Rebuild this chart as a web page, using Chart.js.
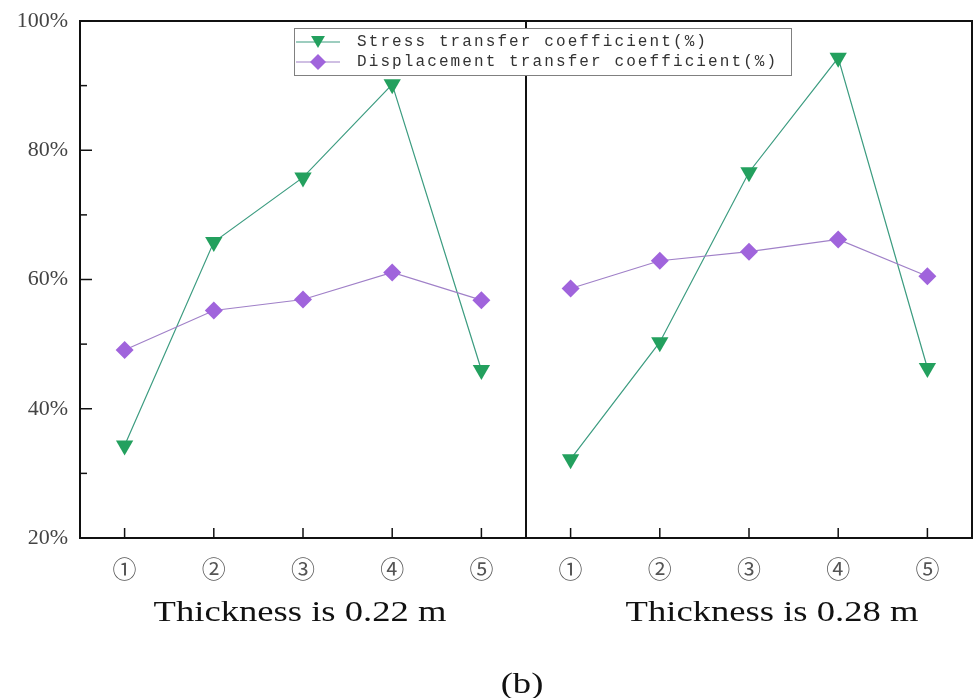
<!DOCTYPE html>
<html>
<head>
<meta charset="utf-8">
<script src="https://cdn.jsdelivr.net/npm/chart.js@4.4.1/dist/chart.umd.min.js"></script>
<style>
    body { margin: 0; background: #fff; }
    #wrap { position: relative; width: 974px; height: 698px; }
    .cap {
        position: absolute;
        font-family: 'Liberation Serif', 'Times New Roman', serif;
        font-size: 30px;
        color: #111;
        white-space: nowrap;
        line-height: 1;
        transform: translateX(-50%) scaleX(1.22);
    }
</style>
</head>
<body>
<div id="wrap">
    <canvas id="myChart" width="974" height="698"></canvas>
    <div class="cap" style="left:300px; top:596px;">Thickness is 0.22 m</div>
    <div class="cap" style="left:772px; top:596px;">Thickness is 0.28 m</div>
    <div class="cap" style="left:522px; top:668px;">(b)</div>
</div>
<script>
// data
const points = ['①', '②', '③', '④', '⑤'];
const stressThin = [34.3, 65.8, 75.8, 90.2, 46.0];      // thickness 0.22 m
const stressThick = [32.2, 50.3, 76.6, 94.3, 46.3];     // thickness 0.28 m
const dispThin = [49.1, 55.2, 56.9, 61.1, 56.8];
const dispThick = [58.6, 62.9, 64.3, 66.2, 60.5];
const yTicks = [20, 40, 60, 80, 100];

const seriesNames = ['Stress transfer coefficient(%)', 'Displacement transfer coefficient(%)'];
const green = '#23a05e';
const greenLine = '#3c9c80';
const purple = '#a064dc';
const purpleLine = '#a080c8';

const labels = points.concat(points);
const gap = new Array(points.length).fill(null);

function tri(ctx, x, y, r, color) {
    ctx.beginPath();
    ctx.moveTo(x - r * 0.866, y - r * 0.5);
    ctx.lineTo(x + r * 0.866, y - r * 0.5);
    ctx.lineTo(x, y + r);
    ctx.closePath();
    ctx.fillStyle = color;
    ctx.fill();
}

function diamond(ctx, x, y, r, color) {
    ctx.beginPath();
    ctx.moveTo(x, y - r);
    ctx.lineTo(x + r, y);
    ctx.lineTo(x, y + r);
    ctx.lineTo(x - r, y);
    ctx.closePath();
    ctx.fillStyle = color;
    ctx.fill();
}

// frame, divider, inward ticks and legend box
const decor = {
    id: 'decor',
    afterDraw(chart) {
        const ctx = chart.ctx;
        const a = chart.chartArea;
        const xs = chart.scales.x;
        const ys = chart.scales.y;
        ctx.save();
        ctx.strokeStyle = '#111';
        ctx.lineWidth = 2;
        ctx.strokeRect(a.left, a.top, a.right - a.left, a.bottom - a.top);

        const mid = xs.getPixelForValue(points.length - 0.5);
        ctx.beginPath();
        ctx.moveTo(mid, a.top);
        ctx.lineTo(mid, a.bottom);
        ctx.stroke();

        // y ticks (major every 20, minor every 10)
        ctx.lineWidth = 1.5;
        for (let v = 20; v <= 100; v += 10) {
            const py = ys.getPixelForValue(v);
            const len = yTicks.includes(v) ? 12 : 7;
            ctx.beginPath();
            ctx.moveTo(a.left, py);
            ctx.lineTo(a.left + len, py);
            ctx.stroke();
        }
        // x ticks
        for (let i = 0; i < labels.length; i++) {
            const px = xs.getPixelForValue(i);
            ctx.beginPath();
            ctx.moveTo(px, a.bottom);
            ctx.lineTo(px, a.bottom - 10);
            ctx.stroke();
        }

        // legend
        const lx = 294, ly = 28, lw = 497, lh = 47;
        ctx.fillStyle = '#fff';
        ctx.fillRect(lx, ly, lw, lh);
        ctx.strokeStyle = '#808080';
        ctx.lineWidth = 1;
        ctx.strokeRect(lx + 0.5, ly + 0.5, lw, lh);

        const rows = [ly + 14, ly + 34];
        const cols = [greenLine, purpleLine];
        ctx.lineWidth = 1.2;
        rows.forEach((ry, i) => {
            ctx.strokeStyle = cols[i];
            ctx.beginPath();
            ctx.moveTo(lx + 2, ry);
            ctx.lineTo(lx + 46, ry);
            ctx.stroke();
        });
        tri(ctx, lx + 24, rows[0] - 2, 8, green);
        diamond(ctx, lx + 24, rows[1], 8, purple);

        ctx.fillStyle = '#333';
        ctx.font = '16px "Liberation Mono", "DejaVu Sans Mono", monospace';
        ctx.letterSpacing = '2.1px';
        ctx.textBaseline = 'middle';
        ctx.textAlign = 'left';
        seriesNames.forEach((name, i) => {
            ctx.fillText(name, lx + 63, rows[i]);
        });
        ctx.restore();
    }
};

function lineSet(name, data, line, fill, style, radius, rot) {
    return {
        label: name,
        data: data,
        borderColor: line,
        borderWidth: 1.2,
        backgroundColor: fill,
        pointBackgroundColor: fill,
        pointBorderWidth: 0,
        pointStyle: style,
        pointRadius: radius,
        pointRotation: rot,
        spanGaps: false,
        tension: 0
    };
}

const ctx = document.querySelector('#myChart').getContext('2d');
new Chart(ctx, {
    type: 'line',
    data: {
        labels: labels,
        datasets: [
            lineSet(seriesNames[1], dispThin.concat(gap), purpleLine, purple, 'rectRot', 9, 0),
            lineSet(seriesNames[1], gap.concat(dispThick), purpleLine, purple, 'rectRot', 9, 0),
            lineSet(seriesNames[0], stressThin.concat(gap), greenLine, green, 'triangle', 10, 180),
            lineSet(seriesNames[0], gap.concat(stressThick), greenLine, green, 'triangle', 10, 180)
        ]
    },
    options: {
        responsive: false,
        animation: false,
        layout: { autoPadding: false, padding: { top: 21, right: 2, left: 0, bottom: 0 } },
        plugins: {
            legend: { display: false },
            tooltip: { enabled: false }
        },
        scales: {
            x: {
                type: 'category',
                offset: true,
                grid: { display: false },
                border: { display: false },
                ticks: {
                    autoSkip: false,
                    maxRotation: 0,
                    padding: 8,
                    color: '#555',
                    font: { family: '"Noto Sans CJK SC", "DejaVu Sans", sans-serif', size: 24 }
                },
                afterFit: (s) => {
                    s.height = 160;
                    s.paddingLeft = 0;
                    s.paddingRight = 0;
                }
            },
            y: {
                min: 20,
                max: 100,
                grid: { display: false },
                border: { display: false },
                ticks: {
                    stepSize: 10,
                    padding: 4,
                    color: '#444',
                    font: { family: '"Liberation Serif", serif', size: 22 },
                    callback: (v) => yTicks.includes(v) ? v + '%' : ''
                },
                afterFit: (s) => {
                    s.width = 80;
                    s.paddingTop = 0;
                    s.paddingBottom = 0;
                }
            }
        }
    },
    plugins: [decor]
});
</script>
</body>
</html>
